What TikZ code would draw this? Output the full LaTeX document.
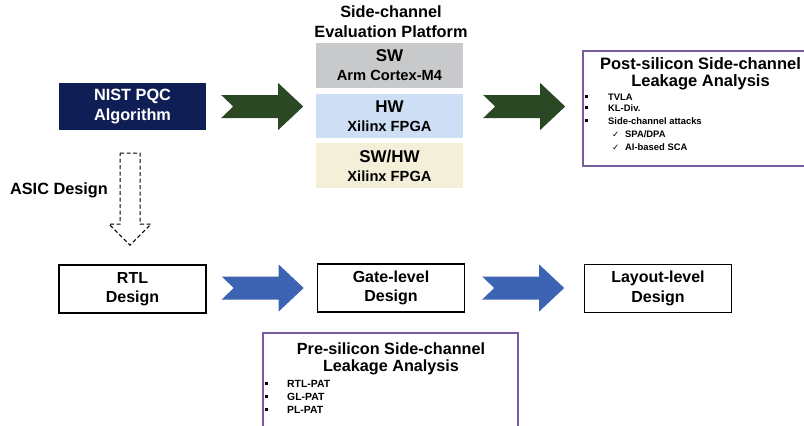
\documentclass[tikz,border=0pt]{standalone}
\usepackage{fontspec}
\setmainfont{Liberation Sans}
\newfontfamily\symfont{DejaVu Sans}
\usetikzlibrary{calc}

\definecolor{navy}{HTML}{0F1F55}
\definecolor{arrowgreen}{HTML}{2A4824}
\definecolor{arrowblue}{HTML}{3D63B3}
\definecolor{swgray}{HTML}{C8C9CB}
\definecolor{hwblue}{HTML}{CEDFF5}
\definecolor{mixcream}{HTML}{F3EFD8}
\definecolor{panelframe}{HTML}{7A5C9E}

\newcommand\fs[2]{\fontsize{#1}{#2}\selectfont}
\newcommand\sqbullet{\rule[2pt]{3pt}{3pt}}
\newcommand\tick{{\symfont\fs{8.5}{10}✓}}
\newcommand\sub[1]{{\fs{14.7}{19}#1}}

% notched block arrow: #1 = tail point (centre line), #2 = fill colour
\newcommand\blockarrow[2]{%
  \fill[#2] ($(#1)+(0,-11.5)$) -- ++(57,0) -- ++(0,-12) -- ++(25,23.5)
    -- ++(-25,23.5) -- ++(0,-12) -- ++(-57,0) -- ++(12,-11.5) -- cycle;}

\tikzset{
  flowbox/.style={draw=black, line width=1.4pt, minimum width=147pt,
    minimum height=48pt, align=center, inner sep=0pt,
    font=\bfseries\fs{16}{19.5}},
  platbox/.style={minimum width=147pt, minimum height=45pt, align=center,
    inner sep=0pt, font=\bfseries\fs{17}{19}},
  listitem/.style={anchor=base west, inner sep=0pt, font=\bfseries\fs{9.4}{11}},
  preitem/.style={anchor=base west, inner sep=0pt, font=\bfseries\fs{10.4}{12}},
  paneltitle/.style={align=center, inner sep=0pt, font=\bfseries\fs{16.5}{17}},
  panelline/.style={draw=panelframe, line width=1.5pt},
  asicarrow/.style={draw=black, line width=1pt, dash pattern=on 4pt off 2.5pt}
}

\begin{document}
\begin{tikzpicture}[x=1pt, y=-1pt]
\useasboundingbox (0,0) rectangle (804,426);

% top row: algorithm and evaluation platforms
\node[fill=navy, text=white, minimum width=147pt, minimum height=47pt,
  inner sep=0pt, align=center, font=\bfseries\fs{16.3}{19.5}]
  (nist) at (132.5,106.5) {NIST PQC\\Algorithm};

\node[align=center, inner sep=0pt, font=\bfseries\fs{16.3}{20}]
  (plattitle) at (391,22) {Side-channel\\Evaluation Platform};

\node[platbox, fill=swgray] (sw) at (389.5,65.5)
  {SW\\\sub{Arm Cortex-M4}};
\node[platbox, fill=hwblue, minimum height=44pt] (hw) at (389.5,116)
  {HW\\\sub{Xilinx FPGA}};
\node[platbox, fill=mixcream] (swhw) at (389.5,165.5)
  {SW/HW\\\sub{Xilinx FPGA}};

\blockarrow{$(nist.east)+(15,0)$}{arrowgreen}
\blockarrow{$(hw.east |- nist.east)+(20,0)$}{arrowgreen}

% post-silicon analysis panel (runs off the right edge)
\coordinate (postnw) at (583,51);
\coordinate (postsw) at (583,166);
\draw[panelline] (805,51) -- (postnw) -- (postsw) -- (805,166);
\node[paneltitle] (posttitle) at (700.5,73.5)
  {Post-silicon Side-channel\\Leakage Analysis};
\node[listitem] (p1) at (585,100) {\sqbullet};
\node[listitem] (p1t) at (608,100) {TVLA};
\node[listitem] (p2) at (585,111) {\sqbullet};
\node[listitem] (p2t) at (608,111) {KL-Div.};
\node[listitem] (p3) at (585,124) {\sqbullet};
\node[listitem] (p3t) at (608,124) {Side-channel attacks};
\node[listitem] (p4) at (612,137) {\tick};
\node[listitem] (p4t) at (625,137) {SPA/DPA};
\node[listitem] (p5) at (612,150) {\tick};
\node[listitem] (p5t) at (625,150) {AI-based SCA};

% ASIC flow
\node[inner sep=0pt, font=\bfseries\fs{16.3}{19}] (asic) at (59,190) {ASIC Design};
\draw[asicarrow] ($(nist.south)+(-12.5,23)$) -- ++(20,0) -- ++(0,71)
  -- ++(11,0) -- ++(-21,21) -- ++(-21,-21) -- ++(11,0) -- cycle;

\node[flowbox] (rtl) at (132.5,289) {RTL\\Design};
\node[flowbox] (gate) at (391,288) {Gate-level\\Design};
\node[flowbox] (layout) at (658,288.5) {Layout-level\\Design};

\blockarrow{$(rtl.east)+(15,-1)$}{arrowblue}
\blockarrow{$(gate.east)+(17,0)$}{arrowblue}

% pre-silicon analysis panel (runs off the bottom edge)
\coordinate (prenw) at (263,333);
\coordinate (prene) at (518,333);
\draw[panelline] (263,427) -- (prenw) -- (prene) -- (518,427);
\node[paneltitle, font=\bfseries\fs{16.2}{17}] (pretitle) at (391,358.5)
  {Pre-silicon Side-channel\\Leakage Analysis};
\node[preitem] (q1) at (265,387) {\sqbullet};
\node[preitem] (q1t) at (287,387) {RTL-PAT};
\node[preitem] (q2) at (265,400) {\sqbullet};
\node[preitem] (q2t) at (287,400) {GL-PAT};
\node[preitem] (q3) at (265,413) {\sqbullet};
\node[preitem] (q3t) at (287,413) {PL-PAT};
\end{tikzpicture}
\end{document}
